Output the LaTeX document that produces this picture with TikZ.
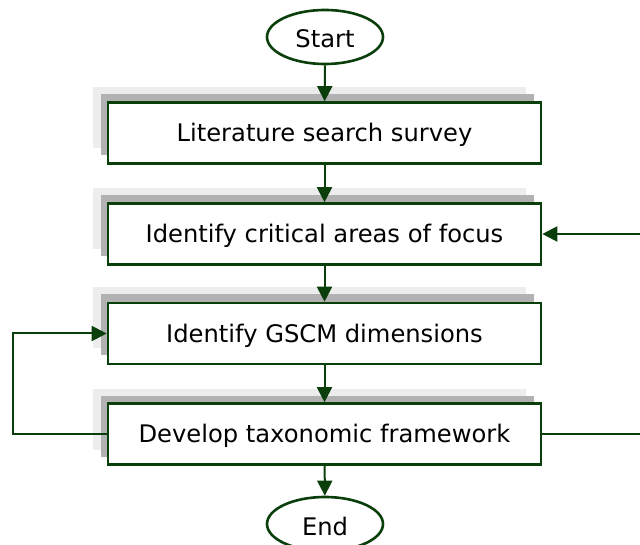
\documentclass[tikz,border=0pt]{standalone}
\usepackage{fontspec}
\setmainfont{DejaVu Sans}
\usetikzlibrary{arrows.meta,shapes.geometric}
\definecolor{dg}{RGB}{10,62,10}
\tikzset{
  txt/.style={font=\fontsize{24.2}{28}\selectfont, text height=17.5pt, text depth=0pt},
  stepbox/.style={txt, draw=dg, line width=2.6pt, fill=white, minimum width=433pt, minimum height=61pt, inner sep=0pt},
  term/.style={txt, text height=22pt, draw=dg, line width=2.6pt, ellipse, fill=white, minimum width=116pt, minimum height=54pt, inner sep=0pt},
  conn/.style={draw=dg, line width=2pt, -{Triangle[length=15pt,width=15pt]}},
  shadowlight/.style={fill=black!7, draw=none, minimum width=433pt, minimum height=61pt},
  shadowdark/.style={fill=black!30, draw=none, minimum width=433pt, minimum height=61pt},
}
\begin{document}
\begin{tikzpicture}[x=1pt,y=-1pt]
\useasboundingbox (0,0) rectangle (640,545);
\clip (0,0) rectangle (640,545);
% shadows
\foreach \yy in {133,234,333,434}{
  \node[shadowlight] at (309.5,\yy-15) {};
  \node[shadowdark] at (317.5,\yy-8) {};
}
\node[term] (start) at (325,37) {Start};
\node[stepbox] (b1) at (324.5,133) {Literature search survey};
\node[stepbox] (b2) at (324.5,234) {Identify critical areas of focus};
\node[stepbox] (b3) at (324.5,333.5) {Identify GSCM dimensions};
\node[stepbox] (b4) at (324.5,434) {Develop taxonomic framework};
\node[term] (end) at (325,524) {End};
\coordinate (r1) at (660,434);
\coordinate (r2) at (660,234);
\coordinate (l1) at (13,434);
\coordinate (l2) at (13,333.5);
\draw[conn] (start) -- (b1);
\draw[conn] (b1) -- (b2);
\draw[conn] (b2) -- (b3);
\draw[conn] (b3) -- (b4);
\draw[conn] (b4) -- (end);
\draw[conn] (b4.east) -- (r1) -- (r2) -- (b2.east);
\draw[conn] (b4.west) -- (l1) -- (l2) -- (b3.west);
\end{tikzpicture}
\end{document}
